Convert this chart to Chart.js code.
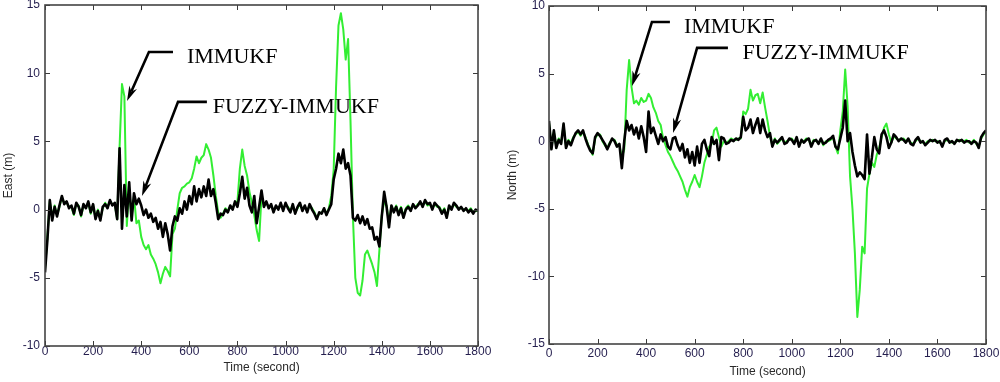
<!DOCTYPE html>
<html><head><meta charset="utf-8">
<script src="https://cdn.jsdelivr.net/npm/chart.js@4.4.1/dist/chart.umd.min.js"></script>
<style>
html,body{margin:0;padding:0;background:#fff;}
#wrap{position:relative;width:1000px;height:382px;overflow:hidden;background:#fff;}
.pane{position:absolute;top:0;width:500px;height:382px;}
</style></head><body>
<div id="wrap">
<div class="pane" style="left:0"><canvas id="east" width="500" height="382"></canvas></div>
<div class="pane" style="left:500px"><canvas id="north" width="500" height="382"></canvas></div>
</div>
<script>
// sampling grid (seconds) used for every series: one value per 10 s, 0..1800
const SAMPLE_STEP = 10;
const times = Array.from({length: 181}, (_, i) => i * SAMPLE_STEP);

const xLabel = 'Time (second)';
const eastLabel = 'East (m)';
const northLabel = 'North (m)';
const seriesNames = ['FUZZY-IMMUKF', 'IMMUKF'];

// East error (m)
const eastFuzzy = [
-4.6,-2.2,0.7,-0.8,0.2,-0.5,0.3,1.0,0.4,0.6,
0.1,0.3,-0.3,0.5,0.2,-0.4,0.4,0.1,0.6,-0.2,
0.4,-0.7,-0.1,-0.8,0.2,0.4,0.1,0.7,0.3,0.5,
-0.7,4.5,-1.4,1.8,-0.5,2.0,-0.8,1.2,0.4,0.8,
0.3,-0.4,0.0,-0.6,-0.3,-0.9,-0.6,-1.4,-0.9,-2.0,
-1.0,-1.8,-3.0,-1.2,-0.5,-0.8,0.1,-0.3,0.6,0.0,
1.0,0.4,1.7,0.6,1.5,0.9,1.7,1.0,2.2,1.0,
1.5,0.5,-0.7,-0.3,-0.4,0.0,-0.2,0.3,0.0,0.6,
0.2,1.2,2.4,0.8,1.6,0.3,-0.2,1.0,-1.0,0.2,
1.4,0.2,0.6,0.1,0.4,-0.2,0.3,0.0,0.5,-0.1,
0.5,0.1,-0.2,0.4,-0.3,0.2,0.5,-0.1,0.3,-0.2,
0.4,0.0,-0.3,-0.7,-0.2,-0.3,0.1,-0.4,0.0,0.4,
2.2,3.0,4.1,3.4,4.4,3.0,3.4,2.5,-0.6,-0.8,
-0.4,-1.0,-0.5,-1.1,-0.7,-1.4,-1.3,-2.2,-2.0,-2.7,
-0.5,1.3,0.2,-1.3,0.3,-0.2,0.2,-0.4,0.1,-0.6,
0.0,0.2,-0.1,0.4,0.1,0.3,0.6,0.2,0.7,0.4,
0.5,0.0,0.5,0.3,0.1,-0.3,0.0,-0.6,0.3,0.0,
0.5,0.3,0.0,0.2,-0.1,0.1,-0.2,0.0,-0.3,0.0,
-0.1];
const eastImm = [
-4.3,-2.0,0.6,-0.6,0.3,-0.4,0.2,0.9,0.5,0.5,
0.2,0.2,-0.4,0.4,0.3,-0.5,0.3,0.2,0.5,-0.3,
0.3,-0.6,0.0,-0.7,0.1,0.5,0.2,0.6,0.4,0.4,
-0.7,4.6,9.2,8.3,-1.2,1.5,-0.5,1.0,-1.0,-0.8,
-2.0,-2.6,-2.9,-2.6,-3.3,-3.6,-4.0,-4.6,-5.4,-4.7,
-4.2,-4.5,-4.9,-1.8,-1.4,0.0,1.2,1.6,1.7,1.9,
2.0,2.3,3.0,3.9,3.4,3.8,4.0,4.8,4.4,3.8,
2.5,1.0,-0.2,-0.6,-0.3,0.1,-0.1,0.2,0.1,0.5,
0.6,3.0,4.4,3.2,2.5,1.3,0.5,-0.4,-1.5,-2.3,
1.0,0.4,0.5,0.2,0.3,-0.1,0.2,0.1,0.4,0.0,
0.4,0.2,-0.1,0.3,-0.2,0.1,0.4,0.0,0.2,-0.1,
0.3,0.1,-0.2,-0.6,-0.3,-0.2,0.0,-0.3,0.1,1.0,
2.9,9.0,13.5,14.4,13.2,11.0,12.5,6.5,-0.5,-5.0,
-6.1,-6.3,-5.2,-3.3,-3.0,-3.5,-4.0,-4.6,-5.6,-3.0,
-0.4,0.6,0.3,-1.0,0.2,-0.1,0.3,-0.3,0.2,-0.5,
0.1,0.3,0.0,0.3,0.2,0.4,0.5,0.3,0.6,0.3,
0.4,0.1,0.4,0.2,0.2,-0.2,0.1,-0.5,0.2,0.1,
0.4,0.2,0.1,0.1,0.0,0.0,-0.1,0.1,-0.2,-0.1,
-0.1];

// North error (m)
const northFuzzy = [
1.5,-0.6,0.8,-0.5,0.1,-0.2,1.3,-0.5,0.0,-0.3,
0.2,0.6,0.8,0.5,0.8,0.2,-0.3,-0.7,-0.9,0.3,
0.6,0.4,0.1,-0.2,-0.6,-0.2,0.2,0.0,-0.4,-0.2,
-2.0,0.0,1.5,0.8,1.2,0.5,1.0,0.2,1.1,0.3,
-0.8,2.2,0.6,1.0,0.4,-0.2,0.5,0.0,0.3,-0.4,
-0.6,0.2,0.3,-0.3,-0.7,-0.2,-1.2,-0.6,-1.6,-0.8,
-1.8,-0.4,-1.6,-0.2,0.1,-0.6,-1.1,0.3,-0.2,0.1,
-1.4,0.3,0.2,-0.2,-0.1,0.1,0.0,0.2,0.1,0.3,
1.8,0.8,1.0,1.6,0.6,1.2,1.7,0.6,1.6,0.8,
0.3,0.6,-0.4,0.1,-0.1,0.1,0.3,-0.2,-0.1,0.2,
0.1,-0.2,0.3,-0.4,0.1,-0.1,0.1,0.2,-0.4,0.0,
0.1,-0.2,0.2,-0.2,-0.1,0.1,0.2,0.4,-0.4,-0.6,
0.2,1.0,3.0,0.0,0.6,-0.8,-1.8,-2.6,-2.3,-2.5,
-2.8,0.5,-2.4,-1.2,0.3,-0.6,-0.9,0.5,0.8,0.3,
-0.5,-0.1,0.5,0.3,0.0,0.2,0.1,-0.1,0.2,-0.2,
-0.3,0.1,0.3,-0.1,0.0,-0.3,-0.1,0.1,0.0,0.1,
-0.1,0.0,-0.4,0.1,0.2,-0.1,0.0,-0.2,0.1,0.0,
0.1,-0.1,0.0,0.0,-0.2,0.0,-0.1,-0.5,0.3,0.6,
0.8];
const northImm = [
1.4,-0.5,0.7,-0.4,0.2,-0.1,1.2,-0.4,0.1,-0.2,
0.3,0.5,0.7,0.4,0.7,0.3,-0.2,-0.6,-1.0,0.2,
0.5,0.5,0.0,-0.3,-0.5,-0.1,0.1,0.1,-0.3,-0.3,
-1.2,-0.6,3.8,6.0,4.0,2.8,3.0,2.7,3.2,2.9,
3.0,3.5,3.2,2.5,2.1,1.5,1.2,0.2,-0.3,-0.8,
-1.1,-1.5,-1.9,-2.2,-2.6,-3.0,-3.6,-4.1,-3.4,-3.0,
-2.5,-3.0,-3.4,-2.6,-1.6,-1.0,-0.4,-0.2,0.8,1.0,
0.3,-0.4,0.0,-0.1,0.0,0.2,0.1,0.1,0.2,0.2,
2.2,2.0,2.4,3.8,3.0,3.4,3.5,2.8,3.6,2.5,
1.5,0.4,-0.3,0.2,-0.2,0.0,0.2,-0.1,0.0,0.1,
0.2,-0.1,0.2,-0.3,0.0,0.0,0.2,0.1,-0.3,0.1,
0.0,-0.1,0.1,-0.3,0.0,0.0,0.1,0.3,-0.4,-0.9,
0.8,2.2,5.3,2.6,-2.6,-5.0,-8.3,-13.0,-11.0,-7.8,
-8.3,-3.5,-2.4,-1.6,-1.9,-1.0,-0.5,0.3,1.0,1.3,
0.5,-0.1,0.4,0.2,0.1,0.1,0.2,0.0,0.1,-0.1,
-0.2,0.0,0.2,0.0,-0.1,-0.2,0.0,0.0,0.1,0.0,
0.0,-0.1,-0.3,0.0,0.1,0.0,-0.1,-0.1,0.0,0.1,
0.0,0.0,0.1,-0.1,-0.1,0.1,-0.2,-0.4,0.2,0.5,
0.7];

// annotation anchors in data coordinates [time, metres]
const eastNotes = [
  {text: 'IMMUKF', tip: [341, 7.96], elbow: [432, 11.55], end: [532, 11.55], at: [590, 10.75]},
  {text: 'FUZZY-IMMUKF', tip: [403, 1.0], elbow: [553, 7.9], end: [673, 7.9], at: [697, 7.08]}
];
const northNotes = [
  {text: 'IMMUKF', tip: [342, 4.08], elbow: [424, 8.82], end: [498, 8.82], at: [556, 8.0]},
  {text: 'FUZZY-IMMUKF', tip: [511, 0.6], elbow: [610, 6.9], end: [737, 6.9], at: [797, 6.08]}
];

Chart.defaults.font.family = '"Liberation Sans", Arial, sans-serif';

const framePlugin = {
  id: 'frame',
  afterDatasetsDraw(chart) {
    const {ctx, chartArea: a, scales: {x, y}} = chart;
    ctx.save();
    ctx.strokeStyle = '#3a3a3a';
    ctx.lineWidth = 1;
    const L = 5;
    ctx.beginPath();
    x.ticks.forEach(t => {
      const px = Math.round(x.getPixelForValue(t.value)) + 0.5;
      ctx.moveTo(px, a.bottom); ctx.lineTo(px, a.bottom - L);
      ctx.moveTo(px, a.top); ctx.lineTo(px, a.top + L);
    });
    y.ticks.forEach(t => {
      const py = Math.round(y.getPixelForValue(t.value)) + 0.5;
      ctx.moveTo(a.left, py); ctx.lineTo(a.left + L, py);
      ctx.moveTo(a.right, py); ctx.lineTo(a.right - L, py);
    });
    ctx.stroke();
    ctx.lineWidth = 1.6;
    ctx.strokeStyle = '#444';
    ctx.strokeRect(a.left, a.top, a.right - a.left, a.bottom - a.top);
    ctx.restore();
  }
};

const arrowPlugin = {
  id: 'arrows',
  afterDatasetsDraw(chart, args, opts) {
    const {ctx, scales: {x, y}} = chart;
    const P = p => [x.getPixelForValue(p[0]), y.getPixelForValue(p[1])];
    (opts.items || []).forEach(it => {
      const [ex, ey] = P(it.end), [bx, by] = P(it.elbow), [tx, ty] = P(it.tip);
      ctx.save();
      ctx.strokeStyle = '#000'; ctx.fillStyle = '#000';
      ctx.lineWidth = 2.6; ctx.lineJoin = 'miter';
      const ang = Math.atan2(ty - by, tx - bx);
      const hl = 15, hw = 4.2;
      const c = Math.cos(ang), s = Math.sin(ang);
      const nx = tx - c * hl * 0.7, ny = ty - s * hl * 0.7;
      ctx.beginPath(); ctx.moveTo(ex, ey); ctx.lineTo(bx, by); ctx.lineTo(nx, ny); ctx.stroke();
      ctx.beginPath();
      ctx.moveTo(tx, ty);
      ctx.lineTo(tx - c * hl - s * hw, ty - s * hl + c * hw);
      ctx.lineTo(nx, ny);
      ctx.lineTo(tx - c * hl + s * hw, ty - s * hl - c * hw);
      ctx.closePath(); ctx.fill();
      const [lx, ly] = P(it.at);
      ctx.font = '22px "Liberation Serif", "Times New Roman", serif';
      ctx.textAlign = 'left'; ctx.textBaseline = 'alphabetic';
      ctx.fillText(it.text, lx, ly);
      ctx.restore();
    });
  }
};

function makeChart(id, fuzzy, imm, yMin, yMax, yTitle, g, notes) {
  return new Chart(document.getElementById(id), {
    type: 'line',
    data: {
      datasets: [
        {label: seriesNames[0], data: times.map((t, i) => ({x: t, y: fuzzy[i]})),
         borderColor: '#000', borderWidth: 2.6, pointRadius: 0, tension: 0, borderJoinStyle: 'round'},
        {label: seriesNames[1], data: times.map((t, i) => ({x: t, y: imm[i]})),
         borderColor: '#33ee33', borderWidth: 2, pointRadius: 0, tension: 0, borderJoinStyle: 'round'}
      ]
    },
    options: {
      responsive: false, animation: false,
      layout: {padding: {left: 0, right: g.padR, top: g.padT, bottom: 0}},
      plugins: {legend: {display: false}, tooltip: {enabled: false}, arrows: {items: notes}},
      scales: {
        x: {
          type: 'linear', min: 0, max: 1800,
          ticks: {stepSize: 200, padding: g.xLabPad, color: '#241e4e', font: {size: 12}, maxRotation: 0, autoSkip: false,
                  callback: v => String(v)},
          grid: {display: false, drawTicks: false}, border: {display: false},
          title: {display: true, text: xLabel, color: '#2a2a2a', font: {size: 12}, padding: {top: 0, bottom: g.xTitlePad}},
          afterFit(s) { s.height = g.xH; s.paddingLeft = 0; s.paddingRight = 0; }
        },
        y: {
          type: 'linear', min: yMin, max: yMax,
          ticks: {stepSize: 5, padding: g.yLabPad, color: '#241e4e', font: {size: 12}, callback: v => String(v)},
          grid: {display: false, drawTicks: false}, border: {display: false},
          title: {display: true, text: yTitle, color: '#2a2a2a', font: {size: 12}, padding: {top: g.yTitlePad, bottom: 0}},
          afterFit(s) { s.width = g.yW; s.paddingTop = 0; s.paddingBottom = 0; }
        }
      }
    },
    plugins: [framePlugin, arrowPlugin]
  });
}

makeChart('east', eastFuzzy, eastImm, -10, 15, eastLabel,
  {padR: 22, padT: 5, xH: 36, yW: 45, xLabPad: -2, xTitlePad: 7, yLabPad: 5, yTitlePad: 1}, eastNotes);
makeChart('north', northFuzzy, northImm, -15, 10, northLabel,
  {padR: 14, padT: 6, xH: 38, yW: 49, xLabPad: 2, xTitlePad: 3, yLabPad: 4, yTitlePad: 5}, northNotes);
</script>
</body></html>
